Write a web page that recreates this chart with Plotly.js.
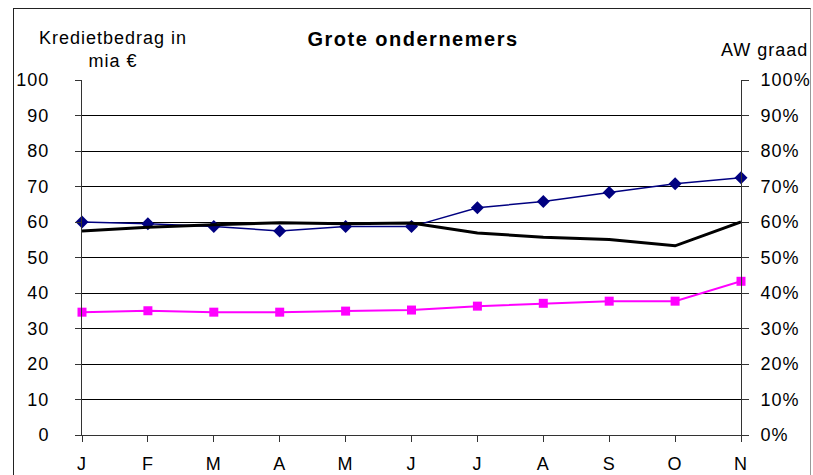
<!DOCTYPE html>
<html>
<head>
<meta charset="utf-8">
<script src="https://cdn.plot.ly/plotly-3.0.1.min.js"></script>
<style>
  body { margin: 0; background: #fff; }
  #wrap { position: relative; width: 813px; height: 475px; }
  #plot { width: 813px; height: 475px; }
  #frame { position: absolute; left: 13px; top: 8px; width: 796px; height: 480px;
           border-left: 1px solid #222; border-top: 1px solid #222; border-right: 1px solid #999;
           pointer-events: none; }
  #plot text { letter-spacing: 1px; }
  #plot .gtitle { letter-spacing: 1.5px; }
</style>
</head>
<body>
<div id="wrap">
  <div id="plot"></div>
  <div id="frame"></div>
</div>
<script>
// months (Jan - Nov)
var months = ["J", "F", "M", "A", "M", "J", "J", "A", "S", "O", "N"];
var idx = months.map((m, i) => i);

// Kredietbedrag in mia € (left axis)
var blueSeries = [60.0, 59.5, 58.7, 57.5, 58.7, 58.7, 64.0, 65.8, 68.3, 70.8, 72.5];
var pinkSeries = [34.6, 35.0, 34.6, 34.6, 34.9, 35.2, 36.3, 37.1, 37.7, 37.7, 43.3];

// AW graad (right axis)
var awGraad = [0.575, 0.585, 0.592, 0.598, 0.595, 0.597, 0.569, 0.557, 0.551, 0.533, 0.600];

var tickVals = [0, 10, 20, 30, 40, 50, 60, 70, 80, 90, 100];

var trace1 = {
  x: idx,
  y: blueSeries,
  type: "scatter",
  mode: "lines+markers",
  line: { color: "#000080", width: 1.5 },
  marker: { symbol: "diamond", size: 10, color: "#000080" },
  cliponaxis: false
};

var trace2 = {
  x: idx,
  y: pinkSeries,
  type: "scatter",
  mode: "lines+markers",
  line: { color: "#ff00ff", width: 2 },
  marker: { symbol: "square", size: 9, color: "#ff00ff" },
  cliponaxis: false
};

// AW graad line on the second axis
var trace3 = {
  x: idx,
  y: awGraad,
  yaxis: "y2",
  type: "scatter",
  mode: "lines",
  line: { color: "#000000", width: 3 },
  cliponaxis: false
};

var data = [trace1, trace2, trace3];

var tickFont = { family: "Liberation Sans, Arial, sans-serif", size: 18, color: "#000" };

var layout = {
  width: 813,
  height: 475,
  margin: { l: 82, r: 72, t: 80, b: 40 },
  paper_bgcolor: "#fff",
  plot_bgcolor: "#fff",
  showlegend: false,
  font: tickFont,
  title: {
    text: "<b>Grote ondernemers</b>",
    font: { family: "Liberation Sans, Arial, sans-serif", size: 20, color: "#000" },
    x: 0.508, xanchor: "center",
    y: 0.918, yanchor: "middle"
  },
  xaxis: {
    range: [0, 10],
    tickvals: idx,
    ticktext: months,
    showgrid: false,
    zeroline: false,
    showline: true,
    linecolor: "#333",
    linewidth: 1,
    ticks: "outside",
    ticklen: 6,
    tickcolor: "#333",
    ticklabelstandoff: 6,
    tickfont: tickFont
  },
  yaxis: {
    range: [0, 100],
    tickvals: tickVals,
    showgrid: true,
    gridcolor: "#000",
    gridwidth: 1,
    zeroline: false,
    showline: true,
    linecolor: "#333",
    ticks: "outside",
    ticklen: 6,
    tickcolor: "#333",
    ticklabelstandoff: 22,
    tickfont: tickFont
  },
  yaxis2: {
    range: [0, 1],
    overlaying: "y",
    side: "right",
    dtick: 0.1,
    tickformat: ".0%",
    showgrid: false,
    zeroline: false,
    showline: true,
    linecolor: "#333",
    ticks: "outside",
    ticklen: 7,
    tickcolor: "#333",
    ticklabelstandoff: 8,
    tickfont: tickFont
  },
  annotations: [
    {
      text: "Kredietbedrag in<br>mia €",
      xref: "paper", yref: "paper",
      x: 0.047, y: 1.087,
      xanchor: "center", yanchor: "middle",
      showarrow: false,
      font: tickFont
    },
    {
      text: "AW graad",
      xref: "paper", yref: "paper",
      x: 1.035, y: 1.085,
      xanchor: "center", yanchor: "middle",
      showarrow: false,
      font: tickFont
    }
  ]
};

Plotly.newPlot("plot", data, layout, { displayModeBar: false, staticPlot: true });
</script>
</body>
</html>
